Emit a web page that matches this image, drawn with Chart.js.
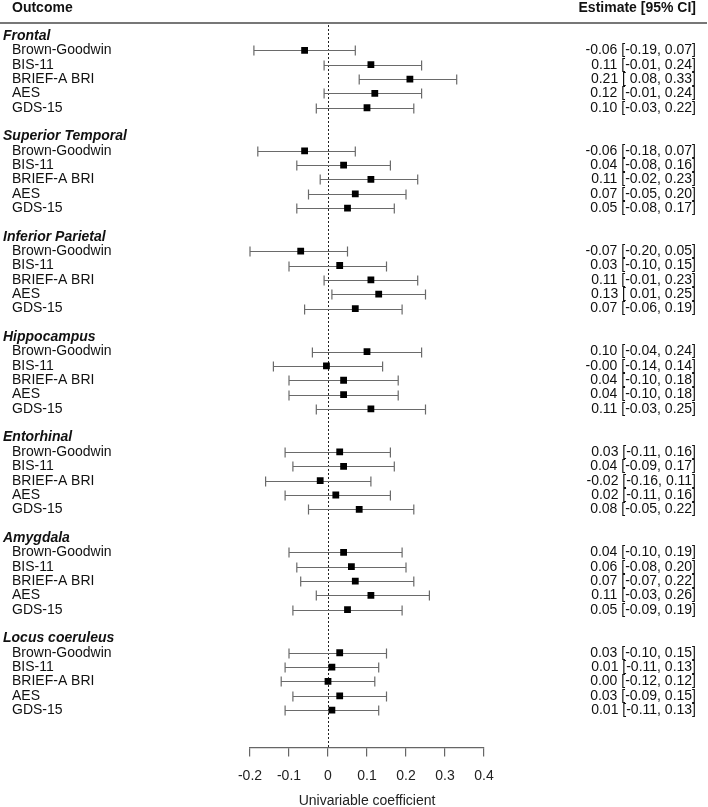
<!DOCTYPE html>
<html>
<head>
<meta charset="utf-8">
<script src="https://cdn.jsdelivr.net/npm/chart.js@4/dist/chart.umd.min.js"></script>
<style>
  html, body { margin: 0; padding: 0; background: #fff; }
  canvas { display: block; }
</style>
</head>
<body>
<canvas id="forest" width="708" height="807"></canvas>
<script>
// regiones y escalas
const regions = ["Frontal", "Superior Temporal", "Inferior Parietal", "Hippocampus", "Entorhinal", "Amygdala", "Locus coeruleus"];
const outcomes = ["Brown-Goodwin", "BIS-11", "BRIEF-A BRI", "AES", "GDS-15"];

// estimaciones por region, en el orden de outcomes
const estimate = [
  -0.06, 0.11, 0.21, 0.12, 0.10,
  -0.06, 0.04, 0.11, 0.07, 0.05,
  -0.07, 0.03, 0.11, 0.13, 0.07,
   0.10, -0.004, 0.04, 0.04, 0.11,
   0.03, 0.04, -0.02, 0.02, 0.08,
   0.04, 0.06, 0.07, 0.11, 0.05,
   0.03, 0.01, 0.00, 0.03, 0.01
];
const lower = [
  -0.19, -0.01, 0.08, -0.01, -0.03,
  -0.18, -0.08, -0.02, -0.05, -0.08,
  -0.20, -0.10, -0.01, 0.01, -0.06,
  -0.04, -0.14, -0.10, -0.10, -0.03,
  -0.11, -0.09, -0.16, -0.11, -0.05,
  -0.10, -0.08, -0.07, -0.03, -0.09,
  -0.10, -0.11, -0.12, -0.09, -0.11
];
const upper = [
  0.07, 0.24, 0.33, 0.24, 0.22,
  0.07, 0.16, 0.23, 0.20, 0.17,
  0.05, 0.15, 0.23, 0.25, 0.19,
  0.24, 0.14, 0.18, 0.18, 0.25,
  0.16, 0.17, 0.11, 0.16, 0.22,
  0.19, 0.20, 0.22, 0.26, 0.19,
  0.15, 0.13, 0.12, 0.15, 0.13
];
const xTicks = [-0.2, -0.1, 0, 0.1, 0.2, 0.3, 0.4];

const FONT = '"Liberation Sans", Arial, Helvetica, sans-serif';
const ROWS_PER_REGION = outcomes.length + 2;  // cabecera + 5 + hueco

function rowOf(r, i) { return r * ROWS_PER_REGION + 1 + i; }

function ciText(k) {
  const lo = lower[k];
  return estimate[k].toFixed(2) + " [" + (lo < 0 ? "" : " ") + lo.toFixed(2) + ", " + upper[k].toFixed(2) + "]";
}

const points = [];
regions.forEach((reg, r) => {
  outcomes.forEach((o, i) => {
    const k = r * outcomes.length + i;
    points.push({ x: estimate[k], y: rowOf(r, i), k: k });
  });
});

const forestPlugin = {
  id: "forest",
  beforeDatasetsDraw(chart) {
    const ctx = chart.ctx;
    const xs = chart.scales.x, ys = chart.scales.y;
    const area = chart.chartArea;
    ctx.save();
    // linea de cero punteada
    const x0 = xs.getPixelForValue(0);
    ctx.strokeStyle = "#222";
    ctx.lineWidth = 1;
    ctx.setLineDash([2, 2]);
    ctx.beginPath();
    ctx.moveTo(x0 + 0.5, area.top);
    ctx.lineTo(x0 + 0.5, area.bottom);
    ctx.stroke();
    ctx.setLineDash([]);
    // intervalos de confianza
    ctx.strokeStyle = "#6a6a6a";
    ctx.lineWidth = 1.2;
    points.forEach(p => {
      const y = Math.round(ys.getPixelForValue(p.y)) + 0.5;
      const a = xs.getPixelForValue(lower[p.k]);
      const b = xs.getPixelForValue(upper[p.k]);
      ctx.beginPath();
      ctx.moveTo(a, y); ctx.lineTo(b, y);
      ctx.moveTo(a, y - 5); ctx.lineTo(a, y + 5);
      ctx.moveTo(b, y - 5); ctx.lineTo(b, y + 5);
      ctx.stroke();
    });
    ctx.restore();
  },
  afterDraw(chart) {
    const ctx = chart.ctx;
    const ys = chart.scales.y;
    const W = chart.width;
    ctx.save();
    ctx.fillStyle = "#111";
    ctx.textBaseline = "middle";
    // cabecera
    ctx.font = "bold 14px " + FONT;
    ctx.textAlign = "left";
    ctx.fillText("Outcome", 12, 8);
    ctx.textAlign = "right";
    ctx.fillText("Estimate [95% CI]", 696, 8);
    ctx.strokeStyle = "#777";
    ctx.lineWidth = 2;
    ctx.beginPath();
    ctx.moveTo(0, 23); ctx.lineTo(W - 1, 23);
    ctx.stroke();
    // etiquetas de filas
    regions.forEach((reg, r) => {
      ctx.textAlign = "left";
      ctx.font = "italic bold 14px " + FONT;
      ctx.fillText(reg, 3, ys.getPixelForValue(r * ROWS_PER_REGION));
      ctx.font = "14px " + FONT;
      outcomes.forEach((o, i) => {
        const y = ys.getPixelForValue(rowOf(r, i));
        ctx.textAlign = "left";
        ctx.fillText(o, 12, y);
        ctx.textAlign = "right";
        ctx.fillText(ciText(r * outcomes.length + i), 696, y);
      });
    });
    ctx.restore();
  }
};

new Chart(document.getElementById("forest"), {
  type: "scatter",
  data: {
    datasets: [{
      data: points,
      pointStyle: "rect",
      pointRadius: 4.8,
      pointHoverRadius: 4.8,
      backgroundColor: "#000",
      borderColor: "#000",
      borderWidth: 0
    }]
  },
  options: {
    responsive: false,
    animation: false,
    events: [],
    layout: { padding: { left: 250, right: 224, top: 25, bottom: -3 } },
    plugins: { legend: { display: false }, tooltip: { enabled: false } },
    scales: {
      x: {
        type: "linear",
        min: -0.2,
        max: 0.4,
        afterBuildTicks(scale) { scale.ticks = xTicks.map(v => ({ value: v })); },
        border: { display: true, color: "#666", width: 1.2 },
        grid: { display: true, drawOnChartArea: false, drawTicks: true, tickLength: 9, color: "#666", lineWidth: 1.2 },
        ticks: {
          padding: 11,
          color: "#222",
          font: { family: FONT, size: 14 },
          callback: v => (v === 0 ? "0" : v.toFixed(1))
        },
        title: {
          display: true,
          text: "Univariable coefficient",
          color: "#222",
          font: { family: FONT, size: 14 },
          padding: { top: -2, bottom: 0 }
        }
      },
      y: {
        type: "linear",
        reverse: true,
        min: -0.77,
        max: 49.6,
        display: false
      }
    }
  },
  plugins: [forestPlugin]
});
</script>
</body>
</html>
